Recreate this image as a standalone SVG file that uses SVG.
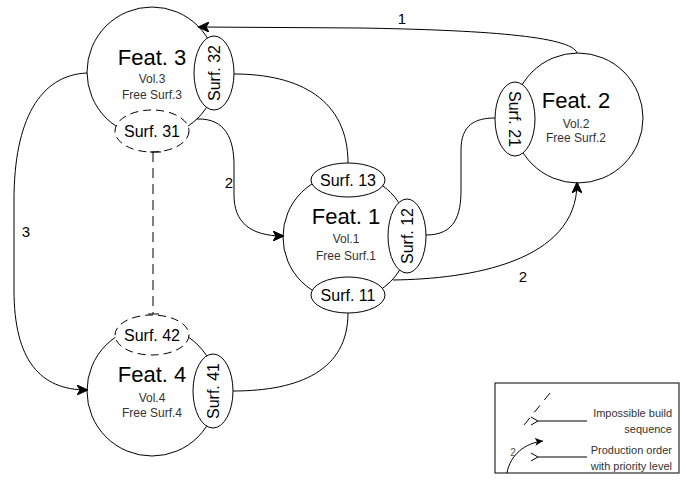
<svg xmlns="http://www.w3.org/2000/svg" width="686" height="492" viewBox="0 0 686 492">
<style>
  .c { fill: #fff; stroke: #000; stroke-width: 1; }
  .s { fill: #fff; stroke: #000; stroke-width: 1; }
  .sd { fill: #fff; stroke: #000; stroke-width: 1; stroke-dasharray: 8 5; }
  .e { fill: none; stroke: #000; stroke-width: 1; }
  .t { font-family: "Liberation Sans", Arial, sans-serif; text-anchor: middle; fill: #000; }
  .ft { font-size: 22px; }
  .sub { font-size: 12px; fill: #333; }
  .st { font-size: 16px; }
  .lbl { font-size: 15px; }
  .lg { font-family: "Liberation Sans", Arial, sans-serif; font-size: 11px; fill: #333; text-anchor: end; }
</style>
<defs>
  <marker id="arr" markerWidth="12" markerHeight="10" refX="10" refY="5" orient="auto" markerUnits="userSpaceOnUse">
    <path d="M0,0 L11,5 L0,10 L3,5 Z" fill="#000" stroke="#000" stroke-width="1"/>
  </marker>
  <marker id="open" markerWidth="10" markerHeight="10" refX="1" refY="5" orient="auto" markerUnits="userSpaceOnUse">
    <path d="M8,1 L1,5 L8,9" fill="none" stroke="#000" stroke-width="1"/>
  </marker>
  <marker id="arrS" markerWidth="9" markerHeight="8" refX="8" refY="4" orient="auto" markerUnits="userSpaceOnUse">
    <path d="M0,0 L8,4 L0,8 L2,4 Z" fill="#000"/>
  </marker>
</defs>

<g id="feat3">
  <circle class="c" cx="152" cy="72" r="65"/>
  <text class="t ft" x="152" y="65">Feat. 3</text>
  <text class="t sub" x="152" y="83">Vol.3</text>
  <text class="t sub" x="152" y="99">Free Surf.3</text>
</g>
<g id="surf32">
  <ellipse class="s" cx="214" cy="73" rx="20" ry="37"/>
  <text class="t st" transform="translate(214,73) rotate(-90)" y="6">Surf. 32</text>
</g>
<g id="surf31">
  <ellipse class="sd" cx="152" cy="131" rx="37" ry="21"/>
  <text class="t st" x="152" y="137">Surf. 31</text>
</g>

<g id="feat1">
  <circle class="c" cx="346" cy="237" r="63"/>
  <text class="t ft" x="346" y="224">Feat. 1</text>
  <text class="t sub" x="346" y="243">Vol.1</text>
  <text class="t sub" x="346" y="260">Free Surf.1</text>
</g>
<g id="surf13">
  <ellipse class="s" cx="348" cy="180" rx="37" ry="17"/>
  <text class="t st" x="348" y="186">Surf. 13</text>
</g>
<g id="surf11">
  <ellipse class="s" cx="348" cy="295" rx="37" ry="18"/>
  <text class="t st" x="348" y="301">Surf. 11</text>
</g>
<g id="surf12">
  <ellipse class="s" cx="407" cy="236" rx="19" ry="37"/>
  <text class="t st" transform="translate(407,236) rotate(-90)" y="6">Surf. 12</text>
</g>

<g id="feat2">
  <circle class="c" cx="578" cy="118" r="65"/>
  <text class="t ft" x="576" y="108">Feat. 2</text>
  <text class="t sub" x="576" y="128">Vol.2</text>
  <text class="t sub" x="576" y="142">Free Surf.2</text>
</g>
<g id="surf21">
  <ellipse class="s" cx="515" cy="119" rx="20" ry="37"/>
  <text class="t st" transform="translate(515,119) rotate(90)" y="6">Surf. 21</text>
</g>

<g id="feat4">
  <circle class="c" cx="152" cy="391" r="65"/>
  <text class="t ft" x="152" y="382">Feat. 4</text>
  <text class="t sub" x="152" y="402">Vol.4</text>
  <text class="t sub" x="152" y="417">Free Surf.4</text>
</g>
<g id="surf42">
  <ellipse class="sd" cx="152" cy="335" rx="37" ry="20"/>
  <text class="t st" x="152" y="341">Surf. 42</text>
</g>
<g id="surf41">
  <ellipse class="s" cx="213" cy="391" rx="20" ry="37"/>
  <text class="t st" transform="translate(213,391) rotate(-90)" y="6">Surf. 41</text>
</g>

<g id="connectors">
  <path class="e" d="M577,53 C572,36 480,30 360,28 L199,27" marker-end="url(#arr)"/>
  <text class="t lbl" x="402" y="24">1</text>
  <path class="e" d="M234,74 C300,74 348,100 348,163"/>
  <path class="e" d="M197,119 C226,118 234,140 234,165 L234,195 C234,222 250,236 283,236" marker-end="url(#arr)"/>
  <text class="t lbl" x="229" y="188">2</text>
  <path class="e" d="M87,73 C40,75 14,120 14,200 L14,290 C14,360 40,390 87,390" marker-end="url(#arr)"/>
  <text class="t lbl" x="26" y="237">3</text>
  <path class="e" d="M348,313 C348,370 300,391 233,391"/>
  <path class="e" d="M426,235 C455,235 461,215 461,190 L461,150 C461,125 475,118 495,118"/>
  <path class="e" d="M393,280 C470,279 577,262 577,183" marker-end="url(#arr)"/>
  <text class="t lbl" x="523" y="282">2</text>
  <path class="e" d="M153,152 L153,314" stroke-dasharray="10 6"/>
  <path class="e" d="M150,152 L161,152 M148,314 L159,314"/>
</g>

<g id="legend">
  <rect x="495" y="383" width="184" height="90" fill="#fff" stroke="#000" stroke-width="1"/>
  <path class="e" d="M550,393 L520,430" stroke-dasharray="9 7"/>
  <path class="e" d="M587,421 L538,421" marker-end="url(#open)"/>
  <text class="lg" x="672" y="417">Impossible build</text>
  <text class="lg" x="672" y="433">sequence</text>
  <path class="e" d="M507,473 C510,455 525,443 543,441" marker-end="url(#arrS)"/>
  <text class="t" x="513" y="456" style="font-size:10px;fill:#555">2</text>
  <path class="e" d="M587,457 L538,457" marker-end="url(#open)"/>
  <text class="lg" x="672" y="454">Production order</text>
  <text class="lg" x="672" y="470">with priority level</text>
</g>
</svg>
